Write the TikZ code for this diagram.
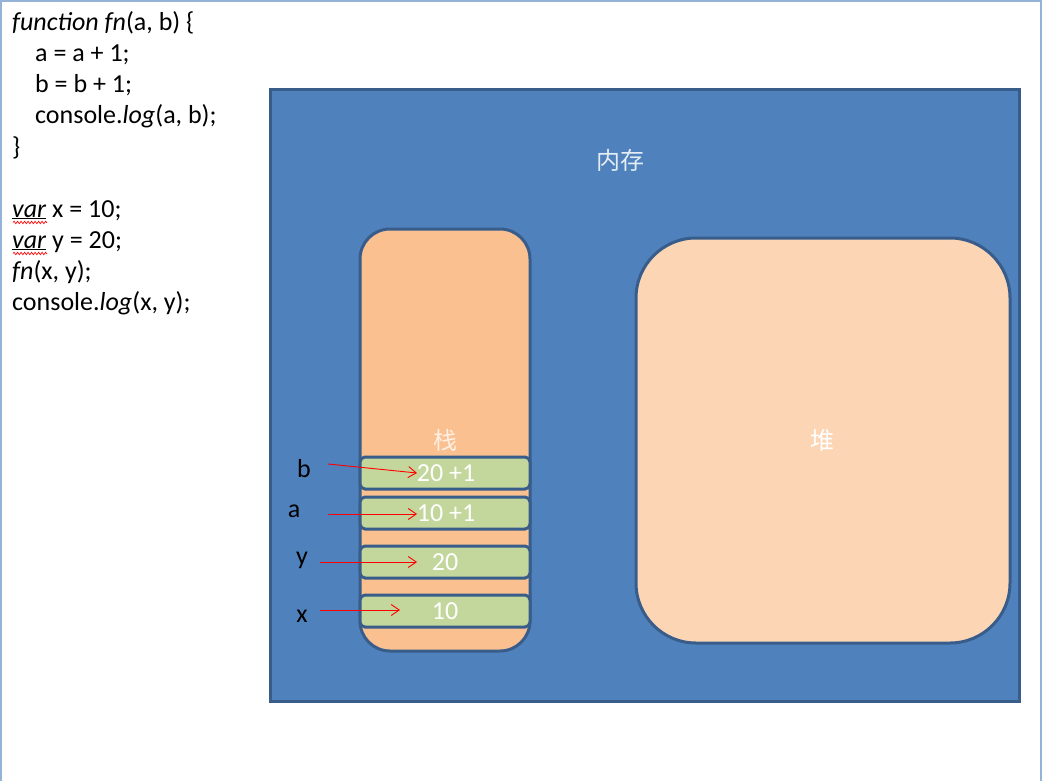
\documentclass[tikz,border=0pt]{standalone}
\usepackage{fontspec}
\setmainfont{Carlito}
\newfontfamily\cjk{Noto Sans CJK SC}
\usetikzlibrary{decorations.pathmorphing,arrows.meta}
\definecolor{memblue}{HTML}{4F81BD}
\definecolor{edgeblue}{HTML}{385D8A}
\definecolor{pageblue}{HTML}{95B3D7}
\definecolor{stackorange}{HTML}{FAC090}
\definecolor{heappeach}{HTML}{FCD5B5}
\definecolor{slotgreen}{HTML}{C3D69B}
\tikzset{
  codeline/.style={anchor=base west,inner sep=0pt,font=\fontsize{26}{30}\selectfont},
  slot/.style={draw=edgeblue,line width=3pt,fill=slotgreen,rounded corners=5pt},
  slotval/.style={text=white,font=\fontsize{26}{30}\selectfont},
  varname/.style={font=\fontsize{26}{30}\selectfont},
  ref/.style={-{Straight Barb[length=8pt,width=11pt]},red,line width=0.9pt},
  squiggle/.style={red,line width=0.7pt,decorate,decoration={snake,amplitude=1.2pt,segment length=3.5pt}}
}
\begin{document}
\begin{tikzpicture}[x=1pt,y=-1pt]
  \useasboundingbox (0,0) rectangle (1043,781);
  \fill[white] (0,0) rectangle (1043,781);
  \draw[pageblue,line width=1.5pt] (1,781) -- (1,1) -- (1041,1) -- (1041,781);
  % code on the left
  \node[codeline] (l1) at (12,31) {\textit{function fn}(a, b) \{};
  \node[codeline] (l2) at (35,62) {a = a + 1;};
  \node[codeline] (l3) at (35,93) {b = b + 1;};
  \node[codeline] (l4) at (35,124) {console.\textit{log}(a, b);};
  \node[codeline] (l5) at (12,155) {\}};
  \node[codeline] (l6) at (12,217) {\underline{\textit{var}} x = 10;};
  \node[codeline] (l7) at (12,248) {\underline{\textit{var}} y = 20;};
  \node[codeline] (l8) at (12,279) {\textit{fn}(x, y);};
  \node[codeline] (l9) at (12,310) {console.\textit{log}(x, y);};
  \draw[squiggle] (13,222.5) -- (47,222.5);
  \draw[squiggle] (13,253.5) -- (47,253.5);
  % memory
  \draw[edgeblue,line width=3pt,fill=memblue] (270,90) rectangle (1019,701);
  \node[text=white!85!memblue,font=\cjk\fontsize{24}{28}\selectfont] (mem) at (620,160) {内存};
  % stack and heap
  \draw[edgeblue,line width=3pt,fill=stackorange,rounded corners=30pt] (360,229) rectangle (530,651);
  \node[text=white!75!stackorange,font=\cjk\fontsize{24}{28}\selectfont] (stk) at (445,440) {栈};
  \draw[edgeblue,line width=3pt,fill=heappeach,rounded corners=60pt] (636,238) rectangle (1010,643);
  \node[text=white,font=\cjk\fontsize{24}{28}\selectfont] (heap) at (822,440) {堆};
  % slots
  \draw[slot] (360,457) rectangle (530,489);
  \draw[slot] (360,497) rectangle (530,529);
  \draw[slot] (360,546) rectangle (530,578);
  \draw[slot] (360,595) rectangle (530,627);
  \node[slotval] (vb) at (446,473) {20 +1};
  \node[slotval] (va) at (446,513) {10 +1};
  \node[slotval] (vy) at (445,562) {20};
  \node[slotval] (vx) at (445,611) {10};
  % variable names
  \node[varname] (nb) at (304,469) {b};
  \node[varname] (na) at (294,511) {a};
  \node[varname] (ny) at (302,560) {y};
  \node[varname] (nx) at (302,616) {x};
  \coordinate (tb) at (417,473);
  \coordinate (ta) at (417,514);
  \coordinate (ty) at (417,562);
  \coordinate (tx) at (400,610);
  \draw[ref] (328,464) -- (tb);
  \draw[ref] (328,514) -- (ta);
  \draw[ref] (320,562) -- (ty);
  \draw[ref] (320,610) -- (tx);
\end{tikzpicture}
\end{document}
